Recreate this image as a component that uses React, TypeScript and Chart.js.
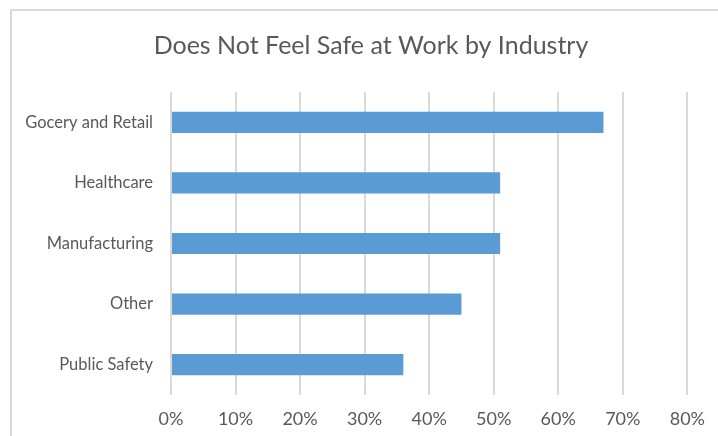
import React, { useEffect, useRef } from "react";
import { Chart, registerables } from "chart.js";

Chart.register(...registerables);

const industries = ["Gocery and Retail", "Healthcare", "Manufacturing", "Other", "Public Safety"];
const unsafeShare = [0.67, 0.51, 0.51, 0.45, 0.36];
const axisMax = 0.8;
const axisStep = 0.1;
const heading = "Does Not Feel Safe at Work by Industry";

const FONT = "Lato, 'Open Sans', sans-serif";
const TEXT = "#595959";
const GRID = "#d9d9d9";

// Heading drawn on the canvas, centred over the framed panel rather than the plot.
const headingPlugin = {
  id: "panelHeading",
  afterDraw(chart: Chart) {
    const ctx = chart.ctx;
    ctx.save();
    ctx.font = `normal 25px ${FONT}`;
    ctx.fillStyle = TEXT;
    ctx.textAlign = "center";
    ctx.textBaseline = "middle";
    ctx.fillText(heading, 371, 46);
    ctx.restore();
  },
};

export default function App() {
  const canvasRef = useRef<HTMLCanvasElement | null>(null);

  useEffect(() => {
    if (!canvasRef.current) return;
    const chart = new Chart(canvasRef.current, {
      type: "bar",
      data: {
        labels: industries,
        datasets: [
          {
            data: unsafeShare,
            backgroundColor: "#5b9bd5",
            borderWidth: 0,
            categoryPercentage: 1,
            barPercentage: 0.35,
          },
        ],
      },
      options: {
        indexAxis: "y",
        animation: false,
        responsive: false,
        maintainAspectRatio: false,
        layout: { padding: { left: 12, right: 25, top: 92, bottom: 0 } },
        plugins: {
          legend: { display: false },
          tooltip: { enabled: false },
          title: { display: false },
        },
        scales: {
          x: {
            min: 0,
            max: axisMax,
            ticks: {
              stepSize: axisStep,
              color: TEXT,
              font: { family: FONT, size: 18 },
              padding: 13,
              callback: (v) => `${Math.round(Number(v) * 100)}%`,
            },
            grid: { color: GRID, lineWidth: 2, drawTicks: false },
            border: { display: false },
            afterFit: (scale) => {
              scale.height = 41;
            },
          },
          y: {
            ticks: {
              color: TEXT,
              font: { family: FONT, size: 16.5 },
              padding: 18,
            },
            grid: { display: false, drawTicks: false },
            border: { display: false },
            afterFit: (scale) => {
              scale.width = 159;
            },
          },
        },
      },
      plugins: [headingPlugin],
    });
    return () => chart.destroy();
  }, []);

  return (
    <div
      style={{
        position: "fixed",
        left: 0,
        top: 0,
        width: 718,
        height: 436,
        background: "#ffffff",
        overflow: "hidden",
      }}
    >
      <div
        style={{
          position: "absolute",
          left: 10,
          top: 9,
          right: -4,
          bottom: -4,
          borderLeft: `2px solid ${GRID}`,
          borderTop: `2px solid ${GRID}`,
        }}
      />
      <canvas
        ref={canvasRef}
        width={718}
        height={436}
        style={{ position: "absolute", left: 0, top: 0, width: 718, height: 436 }}
      />
    </div>
  );
}
